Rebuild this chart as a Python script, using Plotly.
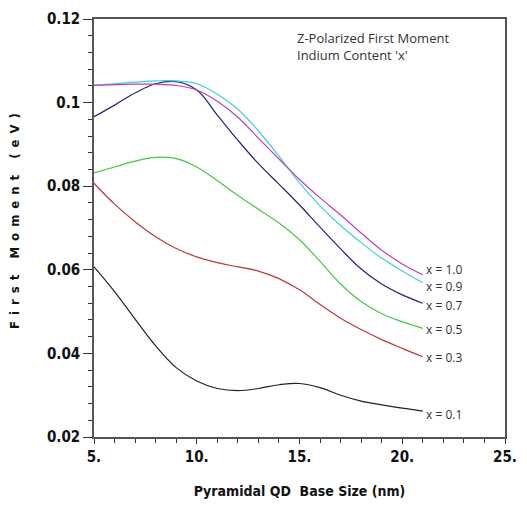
import plotly.graph_objects as go

size_nm = [5, 6, 7, 8, 9, 10, 11, 12, 13, 14, 15, 16, 17, 18, 19, 20, 21]

x_0_1 = [0.0607, 0.0548, 0.0482, 0.0418, 0.0366, 0.0334, 0.0316, 0.0311, 0.0316, 0.0325, 0.0328, 0.0318, 0.0300, 0.0286, 0.0277, 0.0269, 0.0262]
x_0_3 = [0.0807, 0.0757, 0.0715, 0.0679, 0.0651, 0.0631, 0.0617, 0.0607, 0.0597, 0.0579, 0.0552, 0.0517, 0.0484, 0.0457, 0.0433, 0.0412, 0.0392]
x_0_5 = [0.0832, 0.0846, 0.0860, 0.0869, 0.0866, 0.0846, 0.0813, 0.0778, 0.0745, 0.0712, 0.0672, 0.0620, 0.0566, 0.0524, 0.0495, 0.0476, 0.0460]
x_0_7 = [0.0966, 0.0994, 0.1023, 0.1045, 0.1050, 0.1030, 0.0970, 0.0910, 0.0854, 0.0805, 0.0755, 0.0702, 0.0650, 0.0602, 0.0566, 0.0540, 0.0520]
x_0_9 = [0.1042, 0.1045, 0.1049, 0.1052, 0.1052, 0.1045, 0.1020, 0.0984, 0.0932, 0.0872, 0.0808, 0.0753, 0.0706, 0.0665, 0.0628, 0.0597, 0.0569]
x_1_0 = [0.1041, 0.1043, 0.1044, 0.1044, 0.1041, 0.1030, 0.1003, 0.0965, 0.0915, 0.0865, 0.0816, 0.0772, 0.0731, 0.0688, 0.0647, 0.0614, 0.0588]

series_labels = ["x = 0.1", "x = 0.3", "x = 0.5", "x = 0.7", "x = 0.9", "x = 1.0"]
series_values = [x_0_1, x_0_3, x_0_5, x_0_7, x_0_9, x_1_0]
series_colors = ["#222222", "#c0383c", "#3fcc45", "#23237f", "#3dd0d8", "#c23cc2"]
label_yshift = [-3, -1, -1, -2, -4, 5]

y_tickvals = [0.02, 0.04, 0.06, 0.08, 0.10, 0.12]
y_ticktext = ["0.02", "0.04", "0.06", "0.08", "0.1", "0.12"]
x_tickvals = [5, 10, 15, 20, 25]
x_ticktext = ["5.", "10.", "15.", "20.", "25."]

cond = "DejaVu Sans Condensed, Liberation Sans, sans-serif"
tick_font = dict(family=cond, size=15, color="#111", weight="bold")

fig = go.Figure()
for name, vals, col in zip(series_labels, series_values, series_colors):
    fig.add_trace(go.Scatter(x=size_nm, y=vals, mode="lines", name=name,
                             line=dict(color=col, width=1.2, shape="spline", smoothing=1.1),
                             showlegend=False))

for name, vals, ys in zip(series_labels, series_values, label_yshift):
    fig.add_annotation(x=size_nm[-1], y=vals[-1], text=name, xref="x", yref="y",
                       xanchor="left", yanchor="middle", xshift=2, yshift=ys, showarrow=False,
                       borderpad=0, font=dict(family="Open Sans", size=12, color="#333"))

fig.add_annotation(x=0.49, y=0.982, xref="paper", yref="paper", xanchor="left", yanchor="top",
                   align="left", showarrow=False,
                   text="Z-Polarized First Moment<br>Indium Content 'x'",
                   font=dict(family="Open Sans", size=13, color="#333"))

axis_common = dict(showgrid=False, zeroline=False, showline=True, linecolor="#555", linewidth=1.5,
                   mirror=True, ticks="outside", tickcolor="#333", tickfont=tick_font)

fig.update_xaxes(range=[5, 25], tickvals=x_tickvals, ticktext=x_ticktext, ticklen=5,
                 minor=dict(dtick=1, ticklen=4, ticks="outside", tickcolor="#333"),
                 title=dict(text="Pyramidal QD  Base Size (nm)", standoff=21,
                            font=dict(family=cond, size=14, color="#111", weight="bold")),
                 **axis_common)
fig.update_yaxes(range=[0.02, 0.12], tickvals=y_tickvals, ticktext=y_ticktext, ticklen=9,
                 minor=dict(dtick=0.004, tick0=0.02, ticklen=4, ticks="outside", tickcolor="#333"),
                 title=dict(text="First Moment (eV)", standoff=24,
                            font=dict(family=cond, size=13, color="#111", weight="bold")),
                 **axis_common)

fig.update_layout(width=527, height=508, margin=dict(l=94, r=10, t=19, b=71),
                  paper_bgcolor="white", plot_bgcolor="white")

post = (
    "document.querySelectorAll('.ytitle').forEach(function(e){"
    "e.style.letterSpacing='6px';"
    "var r=e.getBoundingClientRect();var c=(r.top+r.bottom)/2;var d=c-226;"
    "e.setAttribute('x', parseFloat(e.getAttribute('x'))+d);"
    "});"
)
fig.write_html("out.html", post_script=post)
